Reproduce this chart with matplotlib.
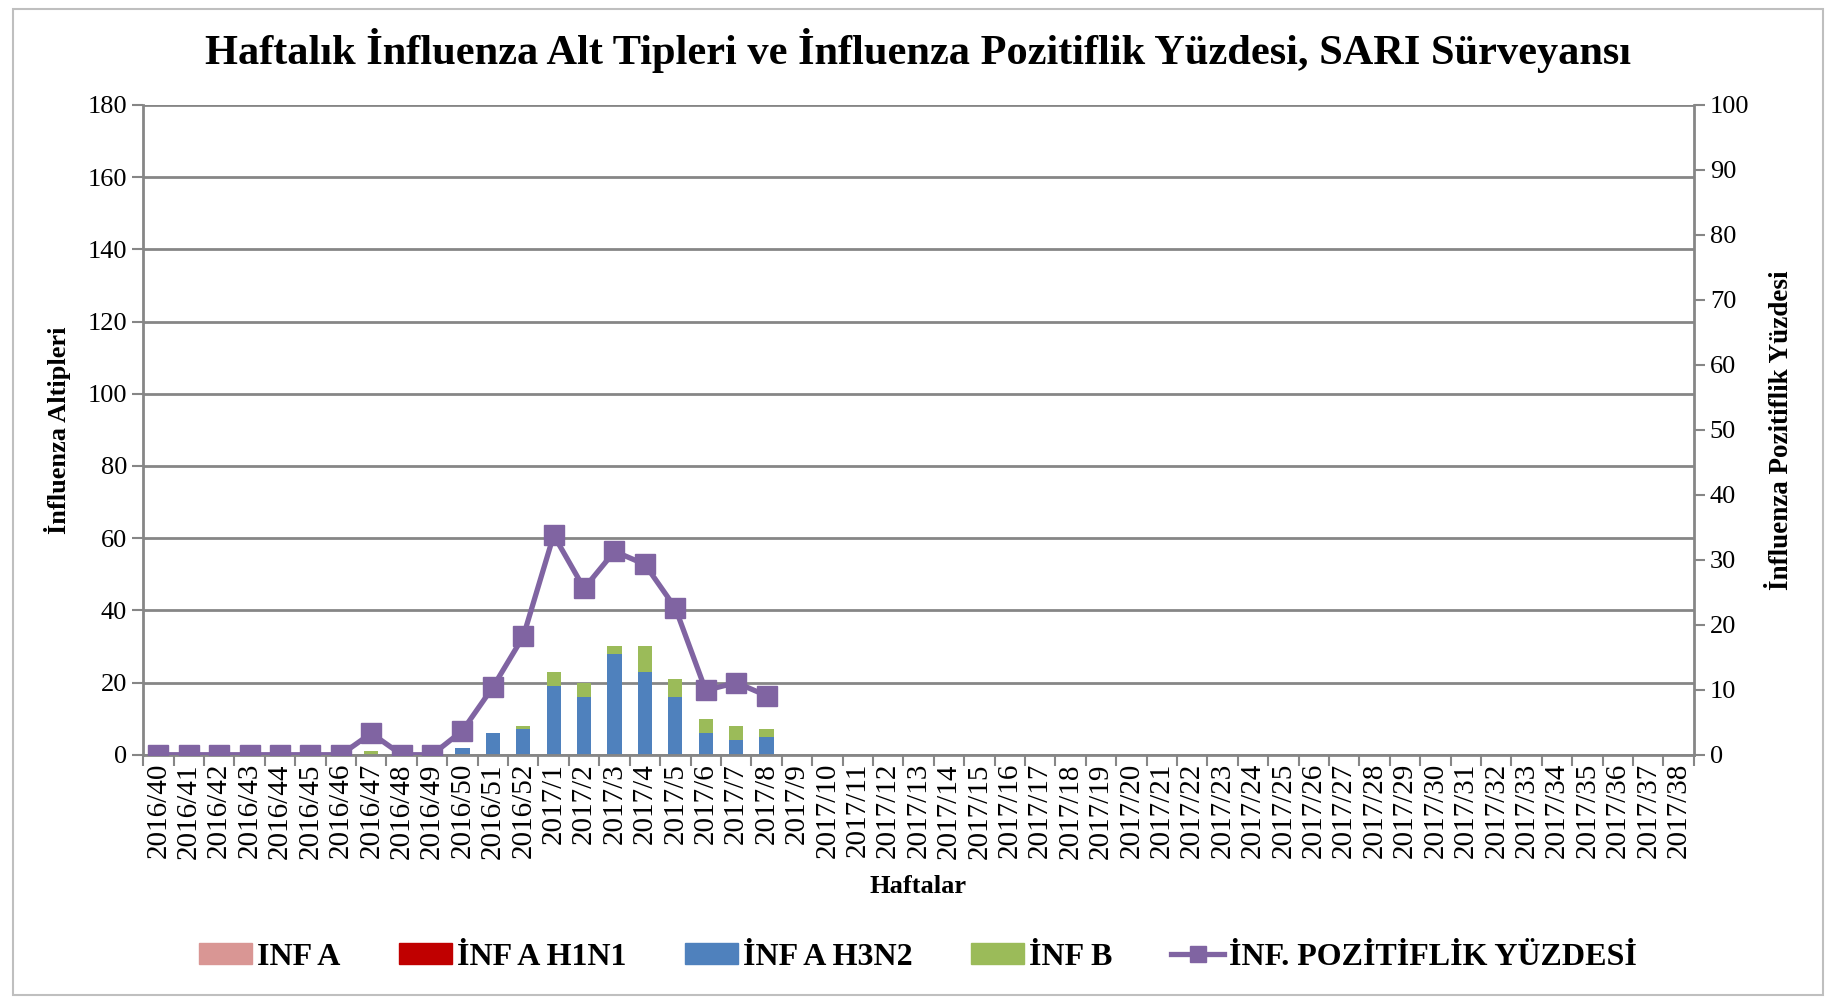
import numpy as np
import matplotlib
matplotlib.use('Agg')
import matplotlib.pyplot as plt
from matplotlib.patches import Rectangle, Patch
from matplotlib.lines import Line2D

plt.rcParams['font.family'] = ['Liberation Serif', 'DejaVu Serif']

# haftalar: 2016/40 - 2017/38
weeks = ['2016/%d' % w for w in range(40, 53)] + ['2017/%d' % w for w in range(1, 39)]

# değerler 2016/40 - 2017/8 arası okunmuş, sonrası boş
inf_a = [0] * 21
inf_a_h1n1 = [0] * 21
inf_a_h3n2 = [0, 0, 0, 0, 0, 0, 0, 0, 0, 0, 2, 6, 7, 19, 16, 28, 23, 16, 6, 4, 5]
inf_b = [0, 0, 0, 0, 0, 0, 0, 1, 0, 0, 0, 0, 1, 4, 4, 2, 7, 5, 4, 4, 2]
pozitiflik = [0, 0, 0, 0, 0, 0, 0, 3.3, 0, 0, 3.7, 10.4, 18.2, 33.8, 25.6, 31.3,
              29.3, 22.6, 9.9, 11.1, 9.1]

n = len(weeks)
pad = [0] * (n - len(inf_a))
a = np.array(inf_a + pad, dtype=float)
h1 = np.array(inf_a_h1n1 + pad, dtype=float)
h3 = np.array(inf_a_h3n2 + pad, dtype=float)
b = np.array(inf_b + pad, dtype=float)
poz = np.array(pozitiflik + [np.nan] * (n - len(pozitiflik)))

c_a, c_h1, c_h3, c_b, c_line = '#D99694', '#C00000', '#4F81BD', '#9BBB59', '#8064A2'
grid_c = '#868686'

fig = plt.figure(figsize=(18.36, 9.97), dpi=100)
ax = fig.add_axes([0.078, 0.243, 0.8446, 0.6517])
x = np.arange(n)
w = 0.47
ax.bar(x, a, w, color=c_a, zorder=2)
ax.bar(x, h1, w, bottom=a, color=c_h1, zorder=2)
ax.bar(x, h3, w, bottom=a + h1, color=c_h3, zorder=2)
ax.bar(x, b, w, bottom=a + h1 + h3, color=c_b, zorder=2)

ax.set_xlim(-0.5, n - 0.5)
ax.set_ylim(0, 180)
ax.set_yticks(range(0, 181, 20))
ax.yaxis.grid(True, color=grid_c, linewidth=2)
ax.set_axisbelow(True)
ax.set_xticks(x)
ax.set_xticklabels(weeks, rotation=90, fontsize=21)
ax.set_xticks(np.arange(-0.5, n, 1), minor=True)
ax.tick_params(axis='x', which='major', length=0, pad=6)
ax.tick_params(axis='x', which='minor', length=8, width=1.5, color=grid_c, direction='out')
ax.tick_params(axis='y', labelsize=19, length=8, width=1.5, color=grid_c)
for s in ['left', 'bottom', 'right']:
    ax.spines[s].set_color(grid_c)
    ax.spines[s].set_linewidth(2)
ax.spines['top'].set_visible(False)
ax.set_ylabel('İnfluenza Altipleri', fontsize=19, fontweight='bold', labelpad=12)
ax.set_xlabel('Haftalar', fontsize=19, fontweight='bold', labelpad=12)

ax2 = ax.twinx()
ax2.plot(x, poz, color=c_line, linewidth=3.8, marker='s', markersize=14.5, zorder=3)
ax2.set_ylim(0, 100)
ax2.set_yticks(range(0, 101, 10))
ax2.tick_params(axis='y', labelsize=19, length=8, width=1.5, color=grid_c)
for s in ['left', 'bottom', 'right', 'top']:
    ax2.spines[s].set_visible(False)
ax2.set_ylabel('İnfluenza Pozitiflik Yüzdesi', fontsize=19.5, fontweight='bold', labelpad=14)

fig.suptitle('Haftalık İnfluenza Alt Tipleri ve İnfluenza Pozitiflik Yüzdesi, SARI Sürveyansı',
             fontsize=30.5, fontweight='bold', y=0.972)

handles = [Patch(color=c_a), Patch(color=c_h1), Patch(color=c_h3), Patch(color=c_b),
           Line2D([], [], color=c_line, linewidth=3.8, marker='s', markersize=12)]
labels = ['INF A', 'İNF A H1N1', 'İNF A H3N2', 'İNF B', 'İNF. POZİTİFLİK YÜZDESİ']
fig.legend(handles, labels, loc='center', bbox_to_anchor=(0.5, 0.04), ncol=5,
           frameon=False, prop={'size': 23, 'weight': 'bold'}, columnspacing=1.85,
           handlelength=1.65, handleheight=0.6, handletextpad=0.15)

fig.patches.append(Rectangle((0.007, 0.002), 0.986, 0.989, transform=fig.transFigure,
                             fill=False, edgecolor='#BFBFBF', linewidth=1.5))

fig.savefig('out.png', dpi=100)
